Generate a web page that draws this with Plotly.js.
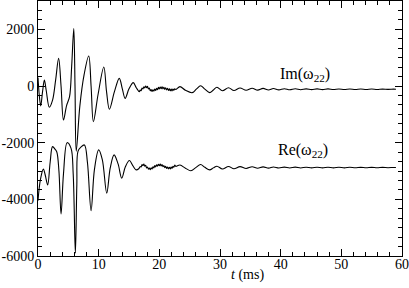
<!DOCTYPE html>
<html>
<head>
<meta charset="utf-8">
<script src="https://cdn.plot.ly/plotly-3.0.1.min.js"></script>
<style>html,body{margin:0;padding:0;background:#fff;}#chart{width:409px;height:288px;}</style>
</head>
<body>
<div id="chart"></div>
<script>
// time (ms) and Im(omega_22)
const tIm = [0,0.2,0.45,0.75,1.05,1.35,1.87,2.4,2.9,3.4,3.8,4.2,4.7,5.2,5.55,5.9,6.1,6.3,6.9,7.6,8.36,8.75,9.13,9.9,10.85,11.3,11.77,12.6,13.4,13.9,14.36,15.0,15.7,16.2,16.7,
  16.85,17.0,17.15,17.3,17.45,17.6,17.75,17.9,18.05,18.2,18.35,18.5,18.65,18.8,18.95,19.1,19.25,19.4,19.55,19.7,19.85,20.0,20.15,20.3,20.45,20.6,20.75,20.9,21.05,21.2,21.35,21.5,21.65,21.8,21.95,22.1,22.25,22.4,22.55,22.7,
  23.4,24.3,25.4,26.1,26.8,27.5,28.3,28.9,29.5,30.4,31.4,32.3,33.3,34.3,35.3,36.2,37.1,38.0,38.8,
  39.7,40.6,41.5,42.4,43.3,44.2,45.1,46.0,46.9,47.8,48.7,49.6,50.5,51.4,52.3,53.2,54.1,55.0,55.9,56.8,57.7,58.6,59.0];
const imW = [300,-300,-700,-200,210,-150,-750,-500,200,975,0,-1200,-700,-375,700,2030,0,-2300,-700,400,1057,0,-1260,-300,670,-200,-820,-200,270,-100,-435,-100,120,-60,-200,
  -140,-165,-75,-105,-25,-70,0,-60,-10,-105,-75,-165,-125,-195,-130,-180,-110,-160,-80,-130,-50,-105,-33,-95,-30,-100,-45,-118,-65,-138,-85,-158,-102,-170,-110,-172,-105,-152,-95,-125,
  -23,-150,-235,-110,10,-110,-235,-140,-45,-170,-60,-160,-70,-150,-80,-145,-85,-140,-90,
  -135,-95,-133,-98,-130,-100,-128,-102,-127,-103,-125,-105,-124,-106,-123,-107,-122,-108,-121,-109,-120,-110,-115];

// time (ms) and Re(omega_22)
const tRe = [0,0.4,0.88,1.2,1.6,2.0,2.4,2.8,3.1,3.45,3.8,4.2,4.8,5.45,5.8,6.16,6.4,6.6,7.1,7.65,8.15,8.75,9.3,10.0,10.6,11.33,11.9,12.54,13.2,13.8,14.4,15.07,15.6,16.17,16.6,
  16.85,17.0,17.15,17.3,17.45,17.6,17.75,17.9,18.05,18.2,18.35,18.5,18.65,18.8,18.95,19.1,19.25,19.4,19.55,19.7,19.85,20.0,20.15,20.3,20.45,20.6,20.75,20.9,21.05,21.2,21.35,21.5,21.65,21.8,21.95,22.1,22.25,22.4,22.55,22.7,
  23.4,24.3,25.2,26.0,26.8,27.5,28.3,28.9,29.5,30.4,31.4,32.3,33.3,34.3,35.3,36.2,37.1,38.0,38.8,
  39.7,40.6,41.5,42.4,43.3,44.2,45.1,46.0,46.9,47.8,48.7,49.6,50.5,51.4,52.3,53.2,54.1,55.0,55.9,56.8,57.7,58.6,59.0];
const reW = [-4050,-3300,-2935,-3150,-3490,-2700,-2140,-2230,-2330,-3000,-4520,-3100,-2000,-2200,-3100,-5900,-3500,-2300,-2150,-2080,-2700,-4400,-2950,-2255,-2600,-3780,-2900,-2430,-2750,-3250,-2850,-2630,-2800,-2960,-2920,
  -2840,-2860,-2770,-2810,-2755,-2830,-2800,-2890,-2860,-2940,-2892,-2955,-2885,-2930,-2850,-2890,-2810,-2855,-2780,-2828,-2760,-2815,-2757,-2825,-2775,-2850,-2805,-2880,-2835,-2908,-2858,-2925,-2870,-2928,-2860,-2905,-2830,-2870,-2790,-2835,
  -2790,-2900,-2990,-2880,-2770,-2870,-2960,-2890,-2830,-2930,-2840,-2920,-2845,-2910,-2850,-2905,-2855,-2900,-2860,
  -2895,-2862,-2893,-2864,-2892,-2866,-2891,-2867,-2890,-2868,-2889,-2869,-2888,-2870,-2887,-2871,-2886,-2872,-2885,-2873,-2884,-2874,-2878];

const xTickVals = [0,10,20,30,40,50,60];
const xTickText = ['0','10','20','30','40','50','60'];
const yTickVals = [-6000,-4000,-2000,0,2000];
const yTickText = ['-6000','-4000','-2000','0','2000'];

const lineStyle = {color:'#000', width:1.1, shape:'spline', smoothing:1};
const traces = [
  {x:tIm, y:imW, type:'scatter', mode:'lines', line:lineStyle, hoverinfo:'skip'},
  {x:tRe, y:reW, type:'scatter', mode:'lines', line:lineStyle, hoverinfo:'skip'}
];
const serif = 'Liberation Serif';
const axisCommon = {
  showline:true, linecolor:'#000', linewidth:1, mirror:'allticks',
  ticks:'inside', ticklen:7, tickwidth:1, tickcolor:'#000',
  showgrid:false, zeroline:false,
  tickfont:{family:serif, size:14, color:'#000'}
};
const layout = {
  width:409, height:288,
  margin:{l:38, r:7, t:1, b:32},
  font:{family:serif, size:14, color:'#000'},
  paper_bgcolor:'#fff', plot_bgcolor:'#fff',
  showlegend:false,
  xaxis:Object.assign({}, axisCommon, {
    range:[0,60], tickmode:'array', tickvals:xTickVals, ticktext:xTickText,
    ticklabelstandoff:-5,
    minor:{dtick:2, ticks:'inside', ticklen:4, tickcolor:'#000', showgrid:false}
  }),
  yaxis:Object.assign({}, axisCommon, {
    range:[-6000,3000], tickmode:'array', tickvals:yTickVals, ticktext:yTickText,
    minor:{dtick:1000/3, tick0:0, ticks:'inside', ticklen:4, tickcolor:'#000', showgrid:false}
  }),
  annotations:[
    {xref:'x', yref:'y', x:44, y:420, text:'Im(ω<sub>22</sub>)', showarrow:false, xanchor:'center', yanchor:'middle', font:{family:serif, size:16, color:'#000'}},
    {xref:'x', yref:'y', x:43.6, y:-2260, text:'Re(ω<sub>22</sub>)', showarrow:false, xanchor:'center', yanchor:'middle', font:{family:serif, size:16, color:'#000'}},
    {xref:'paper', yref:'paper', x:0.575, y:-0.035, text:'<i>t</i> (ms)', showarrow:false, xanchor:'center', yanchor:'top', font:{family:serif, size:14, color:'#000'}}
  ]
};
Plotly.newPlot('chart', traces, layout, {staticPlot:true, displayModeBar:false});
</script>
</body>
</html>
